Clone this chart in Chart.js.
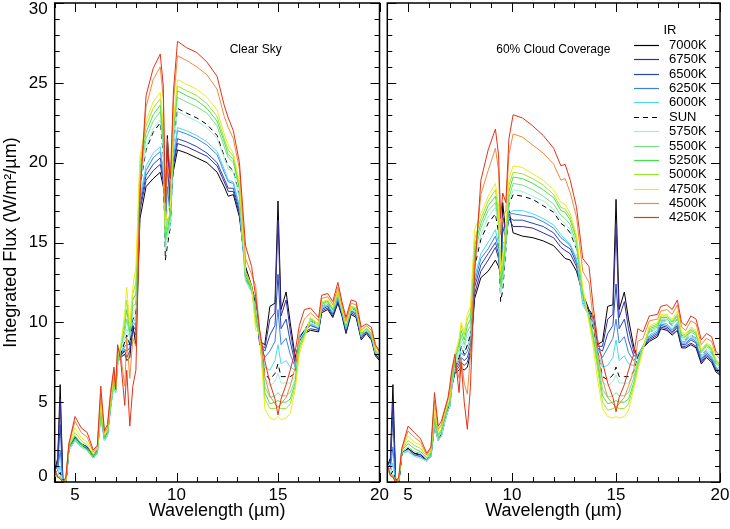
<!DOCTYPE html>
<html lang="en">
<head>
<meta charset="UTF-8">
<title>Integrated Flux - IR</title>
<script src="https://cdn.jsdelivr.net/npm/chart.js"></script>
<style>
  html, body { margin: 0; padding: 0; background: #fff; }
  #wrap { position: relative; width: 730px; height: 529px; overflow: hidden; }
  .panel { position: absolute; top: 0; height: 529px; }
  #clearBox { left: 0; width: 400px; }
  #cloudBox { left: 365px; width: 365px; }
</style>
</head>
<body>
<div id="wrap">
  <div class="panel" id="clearBox"><canvas id="clearChart" width="400" height="529"></canvas></div>
  <div class="panel" id="cloudBox"><canvas id="cloudChart" width="365" height="529"></canvas></div>
</div>
<script>
// wavelength grid (micron), shared by every curve
const WAVELENGTH = [4.0, 4.15, 4.27, 4.4, 4.55, 4.7, 5.0, 5.3, 5.6, 5.9, 6.1, 6.27, 6.45, 6.6, 6.75, 6.92, 7.0, 7.1, 7.25, 7.45, 7.55, 7.7, 7.85,
  8.0, 8.2, 8.5, 8.85, 9.2, 9.35, 9.45, 9.55, 9.7, 9.85, 10.05, 10.5, 11.0, 11.5, 12.0, 12.35, 12.55, 12.8, 13.1, 13.4, 13.7, 13.9,
  14.1, 14.35, 14.6, 14.85, 15.0, 15.15, 15.4, 15.6, 15.85, 16.05, 16.3, 16.6, 17.0, 17.15, 17.45, 17.7, 17.95, 18.15, 18.35, 18.6,
  18.85, 19.1, 19.35, 19.6, 19.8, 20.0];

const SERIES_LABELS = ['7000K', '6750K', '6500K', '6250K', '6000K', 'SUN', '5750K', '5500K', '5250K', '5000K', '4750K', '4500K', '4250K'];
const SERIES_COLORS = ['#000000', '#3a2a9e', '#2446b4', '#3c82e6', '#50d7f0', '#000000', '#9eeed6', '#7adc84', '#46e048', '#9ce432', '#efea1e', '#f08a3c', '#e43218'];

// clear sky panel
const CLR_7000 = [0.7, 1.5, 6.1, 0.2, -0.1, 2.1, 2.8, 2.4, 2.2, 1.7, 2.0, 4.4, 2.8, 3.1, 4.8, 6.4, 5.8, 7.6, 7.8, 8.0, 7.6, 7.8, 9.8,
  8.6, 16.5, 18.5, 19.0, 19.4, 18.5, 17.5, 21.7, 18.0, 19.5, 20.8,
  20.6, 20.3, 20.0, 19.4, 18.5, 17.9, 18.0, 16.6, 13.5, 12.3, 11.0,
  8.8, 8.6, 11.0, 11.2, 17.6, 10.8, 11.9, 10.0, 7.8,
  8.8, 9.3, 9.5, 9.4, 10.6, 10.8, 10.3, 11.2, 10.4, 9.3, 10.5, 10.3, 8.9, 9.3, 8.9, 7.9, 7.6];
const CLR_6750 = [0.7, 1.3, 5.2, 0.2, -0.1, 2.1, 2.8, 2.4, 2.2, 1.7, 2.0, 4.4, 2.8, 3.1, 4.8, 6.4, 5.8, 7.6, 7.9, 8.2, 7.8, 8.2, 9.5,
  9.2, 17.0, 18.9, 19.5, 19.9, 18.8, 16.5, 21.0, 17.5, 19.8, 21.2,
  21.0, 20.7, 20.4, 19.8, 18.8, 18.2, 18.2, 16.8, 13.3, 12.2, 11.2,
  8.6, 8.4, 10.2, 10.6, 16.4, 10.4, 11.4, 9.5, 7.6,
  8.9, 9.4, 9.6, 9.5, 10.7, 10.9, 10.4, 11.3, 10.5, 9.4, 10.6, 10.4, 9.0, 9.4, 9.0, 8.0, 7.7];
const CLR_6500 = [0.7, 1.0, 3.6, 0.1, -0.1, 2.0, 2.7, 2.3, 2.1, 1.6, 1.9, 4.3, 2.7, 3.0, 4.7, 6.3, 5.7, 7.5, 7.9, 8.3, 8.2, 8.4, 9.8,
  9.5, 17.3, 19.2, 19.9, 20.3, 19.0, 16.0, 20.0, 17.0, 20.0, 21.5,
  21.3, 21.0, 20.6, 20.0, 19.0, 18.4, 18.4, 17.0, 13.1, 12.1, 11.3,
  8.6, 8.2, 9.2, 9.8, 13.0, 9.6, 10.2, 8.8, 7.4,
  9.0, 9.5, 9.8, 9.6, 10.8, 11.0, 10.5, 11.5, 10.6, 9.5, 10.7, 10.5, 9.1, 9.4, 9.1, 8.0, 7.7];
const CLR_6250 = [0.6, 0.7, 2.0, 0.0, -0.1, 2.0, 2.6, 2.2, 2.0, 1.5, 1.8, 4.2, 2.6, 2.9, 4.6, 6.2, 5.6, 7.4, 8.0, 8.5, 8.6, 8.6, 10.0,
  9.8, 17.6, 19.5, 20.3, 20.7, 19.3, 15.5, 18.5, 16.5, 20.3, 22.0,
  21.8, 21.5, 21.1, 20.5, 19.4, 18.8, 18.7, 17.2, 12.9, 12.0, 11.5,
  8.8, 7.8, 8.2, 8.8, 10.8, 8.6, 9.0, 8.0, 7.2,
  9.1, 9.5, 9.9, 9.6, 10.9, 11.1, 10.6, 11.5, 10.6, 9.6, 10.7, 10.6, 9.1, 9.5, 9.1, 8.1, 7.8];
const CLR_6000 = [0.6, 0.4, 1.0, 0.0, 0.0, 2.0, 2.6, 2.2, 2.0, 1.5, 1.8, 4.1, 2.6, 2.9, 4.6, 6.1, 5.6, 7.3, 8.0, 8.7, 9.0, 8.8, 10.3,
  10.0, 17.8, 19.8, 20.6, 21.0, 19.5, 15.0, 16.5, 16.0, 20.5, 22.2,
  22.0, 21.7, 21.3, 20.7, 19.6, 18.9, 18.8, 17.3, 12.6, 11.9, 11.4,
  9.0, 7.2, 7.0, 7.6, 8.6, 7.4, 7.6, 7.2, 7.0,
  9.1, 9.5, 9.9, 9.7, 10.9, 11.1, 10.6, 11.6, 10.7, 9.6, 10.8, 10.6, 9.1, 9.5, 9.1, 8.1, 7.8];
const CLR_SUN = [0.6, 0.3, 0.6, 0.0, 0.0, 2.1, 2.7, 2.3, 2.1, 1.6, 1.9, 4.3, 2.7, 3.0, 4.7, 6.3, 5.7, 7.5, 8.0, 8.8, 9.2, 8.6, 10.2,
  10.5, 18.5, 20.8, 21.9, 22.5, 20.5, 13.9, 14.8, 16.0, 21.2, 23.4,
  23.1, 22.8, 22.4, 21.7, 20.4, 19.8, 19.5, 17.9, 12.8, 12.0, 11.2,
  9.0, 6.8, 6.4, 6.8, 7.4, 6.6, 6.6, 6.6, 6.8,
  9.0, 9.5, 10.1, 9.8, 11.0, 11.2, 10.7, 11.7, 10.8, 9.7, 10.9, 10.7, 9.2, 9.5, 9.2, 8.2, 7.8];
const CLR_5750 = [0.6, 0.3, 0.4, -0.1, 0.1, 2.0, 2.6, 2.2, 2.0, 1.5, 1.8, 4.1, 2.6, 2.9, 4.6, 6.1, 5.6, 7.3, 8.2, 9.0, 9.6, 9.0, 10.6,
  10.8, 18.7, 21.0, 22.1, 22.7, 20.8, 14.5, 15.2, 16.2, 21.2, 23.2,
  22.9, 22.6, 22.2, 21.5, 20.3, 19.6, 19.4, 17.8, 12.6, 11.9, 11.0,
  9.0, 6.5, 6.0, 6.3, 6.8, 6.2, 6.2, 6.2, 6.6,
  8.9, 9.4, 10.0, 9.7, 11.0, 11.2, 10.7, 11.7, 10.7, 9.7, 10.8, 10.7, 9.2, 9.5, 9.2, 8.1, 7.8];
const CLR_5500 = [0.6, 0.3, 0.3, -0.1, 0.1, 2.1, 2.7, 2.3, 2.0, 1.5, 1.8, 4.2, 2.7, 3.0, 4.7, 6.3, 5.6, 7.5, 8.3, 9.4, 10.2, 9.2, 11.0,
  11.2, 19.2, 21.5, 22.6, 23.2, 21.2, 15.0, 15.5, 16.5, 21.8, 24.1,
  23.8, 23.5, 23.1, 22.3, 21.0, 20.3, 20.0, 18.3, 12.8, 12.0, 10.7,
  9.0, 6.0, 5.3, 5.4, 5.6, 5.4, 5.4, 5.6, 6.4,
  8.7, 9.3, 10.1, 9.8, 11.1, 11.3, 10.8, 11.8, 10.8, 9.8, 10.9, 10.8, 9.3, 9.6, 9.3, 8.2, 7.9];
const CLR_5250 = [0.7, 0.3, 0.3, 0.0, 0.1, 2.2, 2.9, 2.4, 2.1, 1.6, 1.9, 4.4, 2.8, 3.1, 4.9, 6.5, 5.7, 7.7, 8.4, 9.8, 10.8, 9.4, 11.4,
  11.8, 19.6, 21.9, 23.0, 23.6, 21.6, 15.3, 15.8, 16.8, 22.1, 24.5,
  24.2, 23.9, 23.4, 22.6, 21.3, 20.5, 20.2, 18.4, 12.9, 12.1, 10.3,
  9.0, 5.6, 4.9, 5.0, 5.1, 5.0, 5.0, 5.2, 6.2,
  8.5, 9.2, 10.2, 9.9, 11.2, 11.3, 10.8, 11.9, 10.9, 9.8, 11.0, 10.8, 9.3, 9.6, 9.3, 8.3, 7.9];
const CLR_5000 = [0.7, 0.3, 0.3, 0.0, 0.1, 2.3, 3.1, 2.6, 2.3, 1.7, 2.0, 4.7, 2.9, 3.2, 5.0, 6.7, 5.7, 7.9, 8.4, 10.2, 11.4, 9.6, 11.8,
  12.5, 20.0, 22.3, 23.4, 24.0, 22.0, 15.6, 16.2, 17.0, 22.4, 24.8,
  24.5, 24.2, 23.7, 22.9, 21.5, 20.8, 20.4, 18.6, 13.0, 12.2, 9.9,
  9.2, 5.2, 4.6, 4.6, 4.7, 4.6, 4.6, 4.9, 6.0,
  8.3, 9.1, 10.3, 9.9, 11.2, 11.4, 10.9, 11.9, 10.9, 9.9, 11.0, 10.9, 9.3, 9.6, 9.3, 8.3, 7.9];
const CLR_4750 = [0.7, 0.3, 0.3, 0.0, 0.2, 2.4, 3.4, 2.8, 2.5, 1.8, 2.1, 5.0, 3.0, 3.3, 5.2, 6.9, 5.7, 8.1, 8.5, 10.6, 12.2, 9.8, 12.2,
  13.5, 20.4, 22.6, 23.8, 24.4, 22.4, 16.0, 17.0, 17.3, 22.7, 25.2,
  24.9, 24.6, 24.1, 23.3, 21.8, 21.1, 20.6, 18.8, 13.2, 12.3, 9.5,
  9.3, 4.6, 4.0, 3.9, 4.1, 3.9, 4.0, 4.3, 5.8,
  8.0, 9.0, 10.3, 9.9, 11.3, 11.4, 10.9, 12.0, 10.9, 9.9, 11.0, 10.9, 9.4, 9.7, 9.4, 8.3, 8.0];
const CLR_4500 = [0.8, 0.3, 0.3, 0.0, 0.2, 2.4, 3.8, 3.1, 2.8, 1.9, 2.2, 5.5, 3.1, 3.4, 5.4, 7.0, 5.8, 8.4, 8.0, 6.0, 9.0, 6.5, 9.0,
  8.5, 18.5, 23.5, 25.2, 26.0, 24.0, 17.0, 20.0, 18.5, 23.8, 26.7,
  26.4, 26.0, 25.5, 24.6, 22.9, 22.2, 21.5, 19.6, 14.0, 13.0, 12.3,
  9.4, 6.6, 5.4, 4.9, 4.7, 4.9, 5.3, 6.0, 7.2,
  9.3, 10.2, 10.6, 10.1, 11.5, 11.6, 11.1, 12.2, 11.1, 10.1, 11.2, 11.1, 9.5, 9.8, 9.5, 8.5, 8.1];
const CLR_4250 = [0.8, 0.3, 0.2, 0.0, 0.3, 2.4, 4.1, 3.4, 3.1, 2.0, 2.3, 6.0, 3.2, 3.6, 5.6, 7.2, 5.8, 8.6, 7.6, 4.8, 7.0, 3.5, 6.0,
  7.0, 17.8, 24.2, 25.9, 26.8, 24.8, 17.5, 21.5, 19.0, 24.5, 27.6,
  27.2, 26.9, 26.3, 25.4, 23.6, 22.8, 22.0, 20.0, 14.8, 13.5, 11.6,
  9.5, 7.6, 6.2, 5.2, 4.2, 5.2, 6.1, 7.0, 8.2,
  9.8, 10.8, 10.9, 10.3, 11.7, 11.8, 11.3, 12.5, 11.3, 10.3, 11.4, 11.3, 9.7, 9.9, 9.7, 8.6, 8.2];

// 60% cloud coverage panel
const CLD_7000 = [1.0, 1.5, 6.1, 0.2, -0.1, 1.8, 2.1, 1.8, 1.7, 1.4, 1.7, 3.6, 2.7, 3.0, 3.8, 4.6, 4.8, 6.0, 6.8, 7.0, 7.2, 7.0, 7.2,
  8.0, 11.5, 12.8, 13.2, 13.9, 13.5, 13.0, 17.5, 15.5, 17.0, 15.6,
  15.4, 15.3, 15.1, 14.8, 14.3, 14.0, 13.9, 13.2, 11.8, 10.8, 10.4,
  8.6, 8.8, 11.0, 11.1, 17.7, 10.8, 11.9, 10.2, 8.5,
  7.7, 8.4, 8.8, 9.1, 9.6, 9.5, 9.2, 9.5, 8.4, 8.4, 8.6, 8.4, 7.4, 7.8, 7.5, 6.9, 6.7];
const CLD_6750 = [1.0, 1.3, 5.0, 0.2, -0.1, 1.8, 2.1, 1.8, 1.7, 1.4, 1.7, 3.6, 2.7, 3.0, 3.8, 4.6, 4.8, 6.0, 6.9, 7.2, 7.5, 7.3, 7.5,
  8.2, 11.8, 13.2, 13.9, 14.7, 14.0, 13.0, 16.8, 15.5, 16.5, 16.0,
  16.0, 15.9, 15.6, 15.3, 14.7, 14.5, 14.3, 13.5, 11.7, 10.7, 10.3,
  8.5, 8.5, 10.2, 10.5, 16.0, 10.3, 11.3, 9.6, 8.2,
  7.8, 8.4, 8.9, 9.2, 9.7, 9.6, 9.3, 9.7, 8.5, 8.5, 8.7, 8.5, 7.5, 7.9, 7.6, 7.0, 6.8];
const CLD_6500 = [0.9, 1.1, 4.2, 0.1, -0.1, 1.8, 2.0, 1.7, 1.6, 1.3, 1.6, 3.5, 2.6, 2.9, 3.7, 4.5, 4.7, 5.9, 7.0, 7.4, 7.8, 7.6, 7.8,
  8.5, 12.2, 13.6, 14.3, 15.0, 14.3, 12.6, 16.0, 15.2, 16.6, 16.4,
  16.4, 16.2, 16.0, 15.6, 15.0, 14.8, 14.6, 13.7, 11.5, 10.6, 10.2,
  8.4, 8.2, 9.3, 9.8, 12.4, 9.6, 10.2, 8.9, 7.9,
  7.9, 8.4, 9.0, 9.3, 9.8, 9.7, 9.4, 9.8, 8.6, 8.6, 8.9, 8.7, 7.6, 8.0, 7.7, 7.1, 6.9];
const CLD_6250 = [0.9, 0.8, 2.2, 0.0, -0.1, 1.8, 2.0, 1.7, 1.6, 1.3, 1.6, 3.5, 2.6, 2.9, 3.7, 4.5, 4.7, 5.9, 7.1, 7.6, 8.1, 7.9, 8.2,
  8.8, 12.5, 14.0, 14.6, 15.4, 14.6, 12.2, 15.0, 15.0, 16.8, 16.8,
  16.7, 16.6, 16.3, 15.9, 15.3, 15.1, 14.8, 13.9, 11.3, 10.5, 10.0,
  8.4, 7.8, 8.4, 9.0, 10.2, 8.7, 9.1, 8.1, 7.6,
  8.0, 8.5, 9.1, 9.4, 9.9, 9.8, 9.5, 9.9, 8.7, 8.7, 9.0, 8.8, 7.7, 8.1, 7.8, 7.2, 6.9];
const CLD_6000 = [0.9, 0.5, 1.2, 0.0, 0.0, 1.8, 1.9, 1.6, 1.5, 1.3, 1.6, 3.5, 2.6, 2.9, 3.7, 4.5, 4.7, 5.9, 7.2, 7.8, 8.4, 8.2, 8.5,
  9.0, 12.8, 14.3, 15.0, 15.8, 14.9, 11.8, 13.5, 14.8, 16.8, 17.0,
  17.0, 16.8, 16.5, 16.1, 15.5, 15.2, 14.9, 14.0, 11.1, 10.4, 9.8,
  8.3, 7.2, 7.3, 7.8, 8.9, 7.6, 7.9, 7.4, 7.3,
  8.0, 8.5, 9.2, 9.5, 10.0, 9.9, 9.6, 10.0, 8.8, 8.8, 9.1, 8.9, 7.8, 8.2, 7.9, 7.2, 7.0];
const CLD_SUN = [0.9, 0.4, 0.7, 0.0, 0.0, 1.8, 2.1, 1.8, 1.7, 1.4, 1.7, 3.7, 2.7, 3.0, 3.8, 4.6, 4.8, 6.0, 7.2, 7.8, 8.5, 8.0, 8.6,
  9.2, 13.5, 15.2, 16.2, 16.8, 15.6, 11.3, 12.0, 14.5, 17.4, 18.0,
  17.9, 17.7, 17.3, 16.9, 16.2, 16.0, 15.6, 14.6, 11.5, 10.6, 9.6,
  8.2, 6.6, 6.4, 6.7, 7.2, 6.6, 6.6, 6.6, 6.9,
  7.8, 8.5, 9.4, 9.6, 10.1, 10.1, 9.8, 10.2, 9.0, 8.9, 9.2, 9.0, 7.9, 8.3, 8.1, 7.4, 7.1];
const CLD_5750 = [0.9, 0.4, 0.5, -0.1, 0.1, 1.8, 2.0, 1.6, 1.5, 1.3, 1.6, 3.6, 2.6, 2.9, 3.7, 4.5, 4.7, 5.9, 7.3, 8.0, 8.8, 8.4, 9.0,
  9.5, 13.8, 15.5, 16.6, 17.2, 16.0, 11.8, 12.5, 14.7, 17.5, 18.3,
  18.2, 17.9, 17.6, 17.1, 16.4, 16.2, 15.8, 14.7, 11.4, 10.5, 9.4,
  8.0, 6.3, 6.0, 6.3, 6.7, 6.2, 6.2, 6.2, 6.7,
  7.7, 8.5, 9.4, 9.6, 10.1, 10.1, 9.8, 10.2, 9.0, 8.9, 9.2, 9.0, 7.9, 8.3, 8.1, 7.4, 7.1];
const CLD_5500 = [0.9, 0.4, 0.4, -0.1, 0.1, 1.9, 2.2, 1.9, 1.8, 1.4, 1.7, 3.8, 2.7, 3.1, 3.9, 4.7, 4.9, 6.2, 7.5, 8.3, 9.2, 8.6, 9.4,
  9.8, 14.3, 15.9, 17.0, 17.5, 16.3, 12.2, 12.8, 15.0, 17.8, 18.7,
  18.6, 18.3, 17.9, 17.4, 16.7, 16.5, 16.1, 14.9, 11.6, 10.4, 9.2,
  7.8, 5.8, 5.3, 5.4, 5.6, 5.4, 5.4, 5.6, 6.5,
  7.5, 8.5, 9.5, 9.7, 10.2, 10.2, 9.9, 10.4, 9.1, 9.0, 9.4, 9.2, 8.1, 8.5, 8.2, 7.5, 7.2];
const CLD_5250 = [1.0, 0.4, 0.4, 0.0, 0.1, 2.0, 2.4, 2.1, 1.9, 1.5, 1.8, 4.0, 2.9, 3.2, 4.0, 4.8, 5.0, 6.4, 7.7, 8.6, 9.5, 8.9, 9.8,
  10.2, 14.8, 16.2, 17.3, 17.9, 16.6, 12.5, 13.2, 15.3, 18.2, 19.1,
  19.0, 18.7, 18.3, 17.8, 17.0, 16.9, 16.4, 15.2, 11.8, 10.3, 9.0,
  7.5, 5.4, 4.9, 5.0, 5.1, 5.0, 5.0, 5.2, 6.2,
  7.3, 8.4, 9.6, 9.8, 10.3, 10.3, 10.0, 10.5, 9.2, 9.1, 9.5, 9.3, 8.2, 8.6, 8.3, 7.6, 7.3];
const CLD_5000 = [1.0, 0.4, 0.4, 0.0, 0.1, 2.0, 2.6, 2.3, 2.1, 1.6, 1.9, 4.3, 3.0, 3.3, 4.1, 4.9, 5.1, 6.6, 7.9, 8.8, 9.8, 9.2, 10.2,
  10.6, 15.2, 16.5, 17.6, 18.3, 16.9, 12.8, 13.6, 15.6, 18.6, 19.4,
  19.3, 19.0, 18.6, 18.0, 17.2, 17.1, 16.6, 15.3, 12.0, 10.2, 8.8,
  7.2, 5.0, 4.5, 4.6, 4.7, 4.6, 4.6, 4.9, 6.0,
  7.2, 8.4, 9.7, 9.9, 10.4, 10.4, 10.1, 10.5, 9.3, 9.2, 9.6, 9.4, 8.2, 8.6, 8.4, 7.6, 7.4];
const CLD_4750 = [1.0, 0.4, 0.4, 0.0, 0.2, 2.0, 2.9, 2.5, 2.3, 1.7, 2.0, 4.6, 3.2, 3.5, 4.3, 5.1, 5.3, 6.8, 8.0, 9.0, 10.0, 9.4, 10.5,
  11.0, 15.8, 16.8, 17.9, 18.7, 17.3, 13.2, 14.2, 16.0, 19.0, 19.8,
  19.7, 19.3, 18.9, 18.3, 17.5, 17.4, 16.8, 15.5, 12.2, 10.0, 8.5,
  6.5, 4.6, 4.1, 4.0, 4.1, 4.0, 4.1, 4.5, 5.8,
  7.0, 8.3, 9.8, 10.0, 10.5, 10.5, 10.2, 10.7, 9.4, 9.3, 9.7, 9.5, 8.3, 8.7, 8.5, 7.7, 7.4];
const CLD_4500 = [1.1, 0.4, 0.4, 0.0, 0.2, 2.1, 3.2, 2.8, 2.5, 1.7, 2.1, 5.1, 3.3, 3.6, 4.4, 5.2, 5.6, 6.8, 7.6, 6.5, 7.8, 6.2, 5.5,
  8.0, 14.0, 18.0, 19.5, 20.9, 19.5, 15.5, 16.5, 17.0, 20.5, 21.8,
  21.6, 21.1, 20.6, 19.9, 18.9, 19.0, 18.1, 16.6, 13.2, 12.5, 10.2,
  8.2, 6.4, 5.3, 4.9, 4.7, 4.9, 5.3, 6.0, 7.0,
  8.8, 9.0, 10.1, 10.2, 10.7, 10.8, 10.5, 11.1, 9.7, 9.5, 10.1, 9.9, 8.6, 9.0, 8.8, 8.0, 7.7];
const CLD_4250 = [1.1, 0.4, 0.3, 0.0, 0.3, 2.1, 3.5, 3.1, 2.7, 1.8, 2.2, 5.6, 3.5, 3.8, 4.5, 5.3, 6.0, 7.0, 8.0, 5.6, 7.5, 5.0, 3.3,
  6.0, 13.0, 18.9, 20.8, 22.1, 20.5, 16.5, 18.1, 17.5, 21.5, 23.0,
  22.8, 22.3, 21.7, 20.9, 19.8, 19.9, 18.9, 17.2, 14.0, 13.5, 11.0,
  9.0, 7.5, 6.2, 5.3, 4.4, 5.3, 6.1, 7.0, 8.0,
  9.6, 9.4, 10.4, 10.5, 11.0, 11.1, 10.8, 11.4, 10.0, 9.8, 10.4, 10.2, 8.9, 9.3, 9.1, 8.2, 7.9];

const CLEAR_SERIES = [CLR_7000, CLR_6750, CLR_6500, CLR_6250, CLR_6000, CLR_SUN, CLR_5750, CLR_5500, CLR_5250, CLR_5000, CLR_4750, CLR_4500, CLR_4250];
const CLOUD_SERIES = [CLD_7000, CLD_6750, CLD_6500, CLD_6250, CLD_6000, CLD_SUN, CLD_5750, CLD_5500, CLD_5250, CLD_5000, CLD_4750, CLD_4500, CLD_4250];

const FONT = '"Liberation Sans", Arial, Helvetica, sans-serif';
Chart.defaults.font.family = FONT;
Chart.defaults.color = '#000';

function makeDatasets(series) {
  return SERIES_LABELS.map((label, i) => ({
    label: label,
    data: WAVELENGTH.map((w, j) => ({ x: w, y: series[i][j] })),
    borderColor: SERIES_COLORS[i],
    borderWidth: 1,
    borderDash: label === 'SUN' ? [5, 4] : [],
    pointRadius: 0,
    tension: 0,
    order: SERIES_LABELS.length - i
  }));
}

// box + inward ticks on all four sides, y labels kept inside the frame like the original
const frameTicks = {
  id: 'frameTicks',
  afterDatasetsDraw(chart) {
    const { ctx, chartArea: a } = chart;
    const xs = chart.scales.x, ys = chart.scales.y;
    ctx.save();
    ctx.strokeStyle = '#000';
    ctx.lineWidth = 1;
    ctx.beginPath();
    for (let v = Math.ceil(xs.min); v <= xs.max; v++) {
      const px = Math.round(xs.getPixelForValue(v)) + 0.5;
      const len = v % 5 === 0 ? 9 : 5;
      ctx.moveTo(px, a.bottom); ctx.lineTo(px, a.bottom - len);
      ctx.moveTo(px, a.top); ctx.lineTo(px, a.top + len);
    }
    for (let v = ys.min; v <= ys.max; v++) {
      const py = Math.round(ys.getPixelForValue(v)) + 0.5;
      const len = v % 5 === 0 ? 9 : 5;
      ctx.moveTo(a.left, py); ctx.lineTo(a.left + len, py);
      ctx.moveTo(a.right, py); ctx.lineTo(a.right - len, py);
    }
    ctx.stroke();
    ctx.lineWidth = 1.5;
    ctx.strokeRect(a.left, a.top, a.right - a.left, a.bottom - a.top);
    if (chart.options.plugins.frameTicks.yLabels) {
      ctx.fillStyle = '#000';
      ctx.font = '17px ' + FONT;
      ctx.textAlign = 'right';
      ctx.textBaseline = 'middle';
      for (let v = ys.min; v <= ys.max; v += 5) {
        const py = Math.min(Math.max(ys.getPixelForValue(v), a.top + 6), a.bottom - 6);
        ctx.fillText(String(v), a.left - 7, py);
      }
    }
    ctx.restore();
  }
};

// panel caption placed in data coordinates
const panelNote = {
  id: 'panelNote',
  afterDraw(chart, args, opts) {
    const { ctx } = chart;
    ctx.save();
    ctx.font = '12px ' + FONT;
    ctx.fillStyle = '#000';
    ctx.textAlign = 'left';
    ctx.textBaseline = 'middle';
    ctx.fillText(opts.text, chart.scales.x.getPixelForValue(opts.x), chart.scales.y.getPixelForValue(opts.y));
    ctx.restore();
  }
};

// legend drawn inside the right panel
const irLegend = {
  id: 'irLegend',
  afterDraw(chart, args, opts) {
    if (!opts.show) return;
    const { ctx, chartArea: a } = chart;
    ctx.save();
    ctx.font = '13px ' + FONT;
    ctx.fillStyle = '#000';
    ctx.textBaseline = 'middle';
    ctx.textAlign = 'center';
    ctx.fillText('IR', a.right - 50, a.top + 27);
    ctx.textAlign = 'left';
    chart.data.datasets.forEach((ds, i) => {
      const y = Math.round(a.top + 42 + i * 14.36) + 0.5;
      ctx.strokeStyle = SERIES_COLORS[i];
      ctx.lineWidth = 1.2;
      ctx.setLineDash(SERIES_LABELS[i] === 'SUN' ? [5, 4] : []);
      ctx.beginPath();
      ctx.moveTo(a.right - 86, y);
      ctx.lineTo(a.right - 61, y);
      ctx.stroke();
      ctx.setLineDash([]);
      ctx.fillText(ds.label, a.right - 51, y);
    });
    ctx.restore();
  }
};

function xScale() {
  return {
    type: 'linear', min: 4, max: 20,
    grid: { display: false, drawTicks: false },
    border: { display: false },
    ticks: {
      stepSize: 1, autoSkip: false, maxRotation: 0, padding: 3,
      font: { size: 17 },
      callback: v => (v % 5 === 0 ? String(v) : '')
    },
    title: { display: true, text: 'Wavelength (\u00b5m)', font: { size: 18 }, padding: { top: 0, bottom: 7 } },
    afterFit(s) { s.height = 47; s.paddingLeft = 0; s.paddingRight = 0; }
  };
}

function makeChart(id, series, note, isLeft) {
  return new Chart(document.getElementById(id), {
    type: 'line',
    data: { datasets: makeDatasets(series) },
    options: {
      responsive: false,
      animation: false,
      events: [],
      layout: { padding: isLeft ? { left: 0, right: 20.5, top: 3, bottom: 0 } : { left: 22.3, right: 10, top: 3, bottom: 0 } },
      scales: {
        x: xScale(),
        y: {
          display: isLeft,
          min: 0, max: 30,
          grid: { display: false, drawTicks: false },
          border: { display: false },
          ticks: { display: false, stepSize: 5 },
          title: { display: isLeft, text: 'Integrated Flux (W/m\u00b2/\u00b5m)', font: { size: 18 }, padding: { top: 0, bottom: 0 } },
          afterFit(s) {
            s.width = isLeft ? 54.7 : 0;
            s.paddingTop = 0;
            s.paddingBottom = 0;
          }
        }
      },
      plugins: {
        legend: { display: false },
        tooltip: { enabled: false },
        frameTicks: { yLabels: isLeft },
        panelNote: note,
        irLegend: { show: !isLeft }
      }
    },
    plugins: [frameTicks, panelNote, irLegend]
  });
}

makeChart('clearChart', CLEAR_SERIES, { text: 'Clear Sky', x: 12.62, y: 27.1 }, true);
makeChart('cloudChart', CLOUD_SERIES, { text: '60% Cloud Coverage', x: 9.24, y: 27.1 }, false);

CLEAR_SERIES.concat(CLOUD_SERIES).forEach((s, i) => {
  if (s.length !== WAVELENGTH.length) throw new Error('series ' + i + ' has ' + s.length + ' values');
});
</script>
</body>
</html>
